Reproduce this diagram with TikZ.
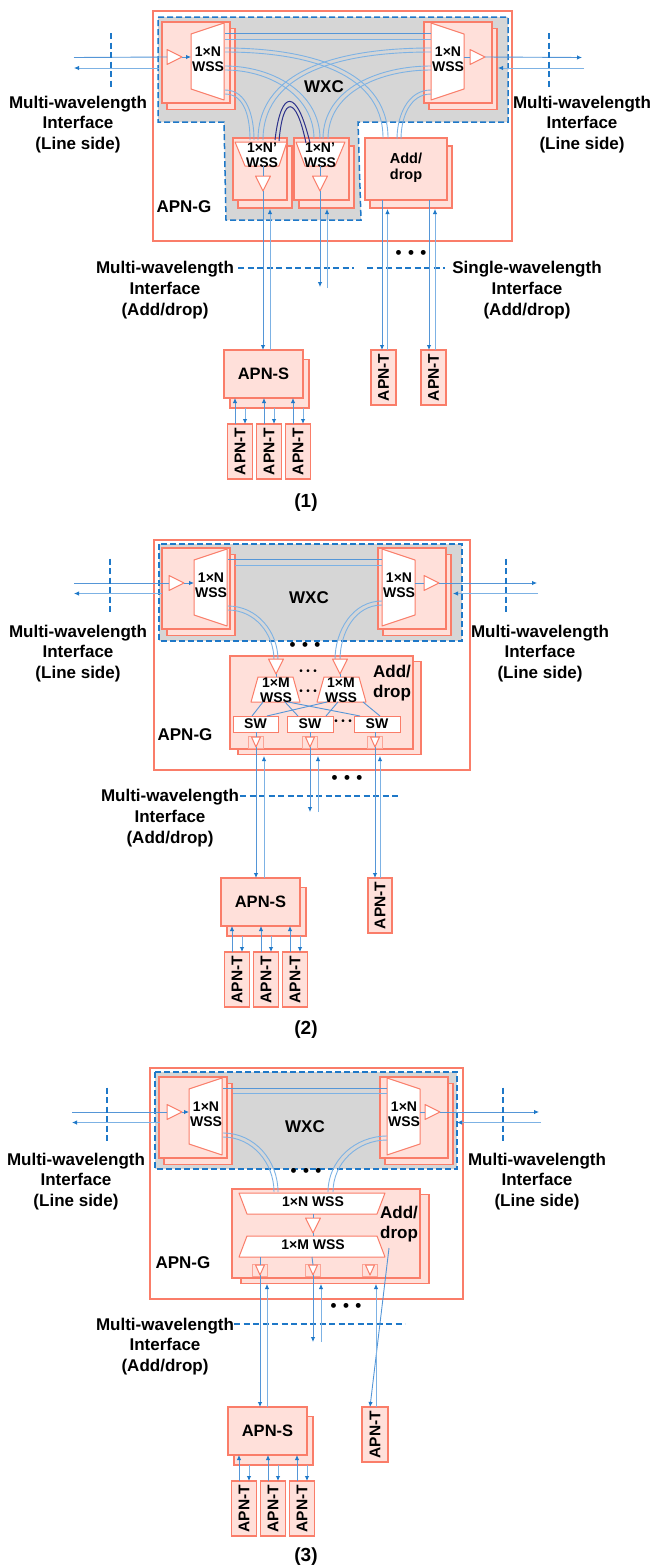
\documentclass[tikz,border=0pt]{standalone}
\usepackage{fontspec}
\usepackage{graphicx}
\setmainfont{Liberation Sans}
\usetikzlibrary{arrows.meta,positioning}
\definecolor{salmon}{RGB}{250,125,105}
\definecolor{rosa}{RGB}{255,224,218}
\definecolor{gris}{RGB}{214,214,214}
\definecolor{azul}{RGB}{30,120,200}
\definecolor{fibra}{RGB}{85,150,215}
\definecolor{fibrab}{RGB}{125,178,228}
\definecolor{arco}{RGB}{45,50,140}
\tikzset{
  x=1pt,y=-1pt,
  every node/.style={inner sep=0pt,outer sep=0pt,font=\bfseries},
  lab/.style={align=center,font=\fontsize{17}{20.6}\selectfont\bfseries},
  caplab/.style={font=\fontsize{19}{20}\selectfont\bfseries},
  inner/.style={align=center,font=\fontsize{14}{14.8}\selectfont\bfseries},
  addtext/.style={align=center,font=\fontsize{14.5}{16}\selectfont\bfseries},
  stackbox/.style={draw=salmon,fill=rosa,line width=1.1pt,align=center},
  apnbox/.style={draw=salmon,fill=rosa,line width=1.3pt},
  apnt/.style={apnbox,minimum width=25,minimum height=55,font=\fontsize{15.5}{16}\selectfont\bfseries},
  swbox/.style={draw=salmon,fill=white,line width=1pt,font=\fontsize{14}{14}\selectfont\bfseries},
  gbox/.style={draw=salmon,line width=1.2pt},
  wsspoly/.style={draw=salmon,fill=white,line width=1pt,line join=round},
  amppoly/.style={draw=salmon,fill=white,line width=1pt,line join=round},
  wxcline/.style={draw=azul,fill=gris,line width=1.5pt,dash pattern=on 6pt off 3pt},
  ifline/.style={draw=azul,line width=1.9pt,dash pattern=on 6pt off 3.5pt},
  fibre/.style={draw=fibra,line width=.9pt},
  fibrel/.style={draw=fibrab,line width=.9pt},
  tip/.style={-{Latex[length=5pt,width=4.5pt,color=azul]}},
  darc/.style={draw=arco,line width=1pt},
}
\newcommand{\boxnode}[7]{\node[#1,minimum width={(#5)-(#3)},minimum height={(#6)-(#4)}] (#2) at ({((#3)+(#5))/2},{((#4)+(#6))/2}) {#7};}
\newcommand{\stacknode}[7]{%
  \boxnode{stackbox}{#1-b}{#2+#6}{#3+#7}{#4+#6}{#5+#7}{}
  \boxnode{stackbox}{#1}{#2}{#3}{#4}{#5}{}}
\newcommand{\ampR}[3]{%
  \draw[amppoly] (#2,#3-7.5) -- (#2,#3+7.5) -- (#2+15,#3) -- cycle;
  \coordinate (#1-i) at (#2,#3);
  \coordinate (#1-o) at (#2+15,#3);}
\newcommand{\ampD}[3]{%
  \draw[amppoly] (#2-7.5,#3) -- (#2+7.5,#3) -- (#2,#3+15) -- cycle;
  \coordinate (#1-i) at (#2,#3);
  \coordinate (#1-o) at (#2,#3+15);}
\newcommand{\ampS}[3]{%
  \boxnode{draw=salmon!70,fill=rosa,line width=.7pt}{#1-f}{#2-7.5}{#3}{#2+7.5}{#3+12}{}
  \draw[amppoly] (#2-4.5,#3+1) -- (#2+4.5,#3+1) -- (#2,#3+11) -- cycle;
  \coordinate (#1-i) at (#2,#3+1);
  \coordinate (#1-o) at (#2,#3+11);}
\newcommand{\wssL}[5]{%
  \stacknode{#1}{#2}{#3}{#2+68}{#3+81}{5}{6.5}
  \draw[wsspoly] (#4,#3+12) -- (#4+33,#3+1) -- (#4+33,#3+78) -- (#4,#3+67) -- cycle;
  \node[inner] (#1-t) at (#4+17,#3+37.5) {1×N\\WSS};
  \ampR{#1-a}{#5}{#3+35}
  \coordinate (#1-p) at (#4,#3+35);
  \draw[fibre,tip] (#1-a-o) -- (#1-p);}
\newcommand{\wssR}[5]{%
  \stacknode{#1}{#2}{#3}{#2+68}{#3+81}{5}{6.5}
  \draw[wsspoly] (#4,#3+1) -- (#4+33,#3+12) -- (#4+33,#3+67) -- (#4,#3+78) -- cycle;
  \node[inner] (#1-t) at (#4+17,#3+37.5) {1×N\\WSS};
  \ampR{#1-a}{#5}{#3+35}
  \coordinate (#1-p) at (#4+33,#3+35);
  \draw[fibre] (#1-p) -- (#1-a-i);}
\newcommand{\lrports}[9]{%
  \coordinate (#1inL) at (#3,#2);
  \coordinate (#1ouLs) at (#4,#2+10.5);
  \coordinate (#1ouLe) at (#3,#2+10.5);
  \coordinate (#1daLt) at (#5,#2-24.5);
  \coordinate (#1daLb) at (#5,#2+31.5);
  \coordinate (#1inR) at (#6,#2);
  \coordinate (#1ouRs) at (#7,#2+10.5);
  \coordinate (#1ouRe) at (#8,#2+10.5);
  \coordinate (#1daRt) at (#9,#2-24.5);
  \coordinate (#1daRb) at (#9,#2+31.5);
  \draw[fibre] (#1inL) -- (wss#1L-a-i);
  \draw[fibrel,tip] (#1ouLs) -- (#1ouLe);
  \draw[fibre,tip] (wss#1R-a-o) -- (#1inR);
  \draw[fibrel,tip] (#1ouRs) -- (#1ouRe);
  \draw[ifline] (#1daLt) -- (#1daLb);
  \draw[ifline] (#1daRt) -- (#1daRb);}
\newcommand{\fibrepair}[4]{%
  \draw[fibrel] (#1) to[out=#3,in=90] (#2);
  \draw[fibrel] ([yshift=-4pt]#1) to[out=#3,in=90] ([xshift=#4]#2);}
\newcommand{\apnset}[3]{%
  \boxnode{apnbox}{apnS#1-b}{#2+6}{#3+9.5}{#2+85}{#3+58}{}
  \boxnode{apnbox,font=\fontsize{16.5}{17}\selectfont\bfseries}{apnS#1}{#2}{#3}{#2+79}{#3+48}{APN-S}
  \node[apnt,anchor=north west] (apnT#1a) at (#2+3.5,#3+74) {\rotatebox{90}{APN-T}};
  \node[apnt,right=4pt of apnT#1a] (apnT#1b) {\rotatebox{90}{APN-T}};
  \node[apnt,right=4pt of apnT#1b] (apnT#1c) {\rotatebox{90}{APN-T}};
  \foreach \t in {a,b,c} {
    \draw[fibre,tip] ([xshift=-5pt]apnT#1\t.north) -- ([xshift=-5pt]apnT#1\t.north |- apnS#1.south);
    \draw[fibrel,tip] ([xshift=5pt]apnT#1\t.north |- apnS#1-b.south) -- ([xshift=5pt]apnT#1\t.north);
  }}
\newcommand{\bigdots}{•\hspace{6.5pt}•\hspace{6.5pt}•}
\newcommand{\tinydots}{\fontsize{10}{10}\selectfont•\hspace{3.5pt}•\hspace{3.5pt}•}
\begin{document}
\begin{tikzpicture}
\useasboundingbox (0,0) rectangle (654,1567);
% panel 1
\boxnode{gbox}{gateA}{153}{11}{512}{241}{}
\draw[wxcline] (158,17) -- (508,17) -- (508,122) -- (358,122) -- (361,220) -- (226,220) -- (224,122) -- (158,122) -- cycle;
\wssL{wssaL}{162}{22}{191}{167}
\wssR{wssaR}{424}{22}{431}{470}
\lrports{a}{57.5}{74}{159}{111}{582}{584}{498}{549}
\stacknode{dropa}{233}{138}{287}{200}{5}{8}
\stacknode{dropb}{294}{138}{349}{200}{5}{8}
\stacknode{dropc}{365}{138}{447}{200}{5}{8}
\foreach \n/\x/\y in {tpa/225/33,tpb/431/33,tqa/225/39,tqb/431/39,la/225/48,lb/225/66,lc/225/90,ra/431/48,rb/431/66,rc/431/90,
  lae/388/138,lbe/320/139,lce/254/140,rae/258/140,rbe/323/139,rce/397/139,
  dka/275/140,dkb/310/143,dkc/279/141,dkd/306/143}
  \coordinate (\n) at (\x,\y);
\draw[fibre] (tpa) -- (tpb);
\draw[fibrel] (tqa) -- (tqb);
\fibrepair{la}{lae}{0}{-5pt}
\fibrepair{lb}{lbe}{0}{-6pt}
\fibrepair{lc}{lce}{0}{-4pt}
\fibrepair{ra}{rae}{180}{5pt}
\fibrepair{rb}{rbe}{180}{5pt}
\fibrepair{rc}{rce}{180}{4pt}
\draw[wsspoly] (235,142) -- (287,142) -- (279,166) -- (245,166) -- cycle;
\draw[wsspoly] (296,142) -- (345,142) -- (335,166) -- (305,166) -- cycle;
\draw[darc] (dka) .. controls (281,88) and (297,88) .. (dkb);
\draw[darc] (dkc) .. controls (283,95) and (296,95) .. (dkd);
\node[inner] (wssA) at (262,155) {1×N’\\WSS};
\node[inner] (wssB) at (320,155) {1×N’\\WSS};
\ampD{ampa}{263}{176}
\ampD{ampb}{320}{176}
\coordinate (wssAb) at (263,166);
\coordinate (wssBb) at (320,166);
\draw[fibre] (wssAb) -- (ampa-i);
\draw[fibre] (wssBb) -- (ampb-i);
\node[addtext] (addK) at (406,168) {Add/\\drop};
\node[lab] (wxcA) at (324,87) {WXC};
\node[lab] (gLabA) at (184,207) {APN-G};
\node[lab] (ifaL) at (78,124.5) {Multi-wavelength\\Interface\\(Line side)};
\node[lab] (ifaR) at (582,124.5) {Multi-wavelength\\Interface\\(Line side)};
\node[lab] (ifaM) at (165,290) {Multi-wavelength\\Interface\\(Add/drop)};
\node[lab] (ifaS) at (527,290) {Single-wavelength\\Interface\\(Add/drop)};
\node[lab] (dotsA) at (411,254) {\bigdots};
\foreach \n/\x/\y in {daa/238/268,dab/354/268,dac/367/268,dad/445/268,dnb/320/287,upa/270/209,upb/327/209,upbe/327/288,
  dca/382/200,dcb/429/200,uca/387.5/209,ucb/435/209}
  \coordinate (\n) at (\x,\y);
\draw[ifline] (daa) -- (dab);
\draw[ifline] (dac) -- (dad);
\apnset{a}{224}{350}
\boxnode{apnt}{apnTx}{371}{350}{396}{405}{\rotatebox{90}{APN-T}}
\boxnode{apnt}{apnTy}{421}{350}{446}{405}{\rotatebox{90}{APN-T}}
\draw[fibre,tip] (ampa-o) -- (ampa-o |- apnSa.north);
\draw[fibrel,tip] (upa |- apnSa.north) -- (upa);
\draw[fibre,tip] (ampb-o) -- (dnb);
\draw[fibrel,tip] (upbe) -- (upb);
\draw[fibre,tip] (dca) -- (dca |- apnTx.north);
\draw[fibrel,tip] (uca |- apnTx.north) -- (uca);
\draw[fibre,tip] (dcb) -- (dcb |- apnTy.north);
\draw[fibrel,tip] (ucb |- apnTy.north) -- (ucb);
\node[caplab] (capA) at (306,503) {(1)};
% panel 2
\boxnode{gbox}{gateB}{154}{540}{470}{770}{}
\draw[wxcline] (159,544) rectangle (462,641);
\wssL{wssbL}{162}{548}{194}{169}
\wssR{wssbR}{378}{548}{382}{424}
\lrports{b}{583}{74}{162}{110}{537}{538}{453}{506}
\foreach \n/\x/\y in {tpc/228/559,tpd/382/559,tqc/235/565,tqd/382/565,lf/228/606,rf/382/601,lfe/278/660,rfe/335/660}
  \coordinate (\n) at (\x,\y);
\draw[fibre] (tpc) -- (tpd);
\draw[fibrel] (tqc) -- (tqd);
\stacknode{addb}{230}{656}{413}{749}{8}{5.5}
\fibrepair{lf}{lfe}{0}{-4pt}
\fibrepair{rf}{rfe}{180}{5pt}
\ampD{ampc}{276}{659}
\ampD{ampd}{340}{659}
\draw[wsspoly] (258,677) -- (293,677) -- (300,702) -- (251,702) -- cycle;
\draw[wsspoly] (324,677) -- (359,677) -- (366,702) -- (317,702) -- cycle;
\node[inner] (wssC) at (276,690) {1×M\\WSS};
\node[inner] (wssD) at (341,690) {1×M\\WSS};
\coordinate (wssCt) at (276,677);
\coordinate (wssDt) at (340,677);
\draw[fibre] (ampc-o) -- (wssCt);
\draw[fibre] (ampd-o) -- (wssDt);
\boxnode{swbox}{swa}{233}{716}{278}{732}{SW}
\boxnode{swbox}{swb}{287}{716}{333}{732}{SW}
\boxnode{swbox}{swc}{354}{716}{400}{732}{SW}
\foreach \n/\x/\y in {cra/263/702,crb/285/702,crc/288/702,crd/327/702,cre/338/702,crf/363/702,
  cta/252/716,ctb/298/716,ctc/360/716,ctd/267/716,cte/326/716,ctf/380/716}
  \coordinate (\n) at (\x,\y);
\foreach \a/\b in {cra/cta,crb/ctb,crc/ctc,crd/ctd,cre/cte,crf/ctf}
  \draw[fibre] (\a) -- (\b);
\ampS{ampe}{256}{736}
\ampS{ampf}{310}{736}
\ampS{ampg}{375}{736}
\draw[fibre] (swa.south -| ampe-i) -- (ampe-i);
\draw[fibre] (swb.south -| ampf-i) -- (ampf-i);
\draw[fibre] (swc.south -| ampg-i) -- (ampg-i);
\node[lab] (addL) at (392,683) {Add/\\drop};
\node[font=\fontsize{12}{12}\selectfont] (dotsB) at (308,672) {\tinydots};
\node[font=\fontsize{12}{12}\selectfont] (dotsC) at (308,692) {\tinydots};
\node[font=\fontsize{12}{12}\selectfont] (dotsD) at (343,722) {\tinydots};
\node[lab] (wxcB) at (309,598) {WXC};
\node[lab] (dotsE) at (305,646) {\bigdots};
\node[lab] (dotsF) at (347,779) {\bigdots};
\node[lab] (gLabB) at (185,735) {APN-G};
\node[lab] (ifbL) at (78,653.5) {Multi-wavelength\\Interface\\(Line side)};
\node[lab] (ifbR) at (540,653.5) {Multi-wavelength\\Interface\\(Line side)};
\node[lab] (ifbM) at (170,818) {Multi-wavelength\\Interface\\(Add/drop)};
\foreach \n/\x/\y in {dae/240/796,daf/398/796,dnf/310/812,uph/264/756,upi/318/756,upj/380/756,upie/318/812}
  \coordinate (\n) at (\x,\y);
\draw[ifline] (dae) -- (daf);
\apnset{b}{221}{878}
\boxnode{apnt}{apnTz}{368}{878}{392}{933}{\rotatebox{90}{APN-T}}
\draw[fibre,tip] (ampe-o) -- (ampe-o |- apnSb.north);
\draw[fibrel,tip] (uph |- apnSb.north) -- (uph);
\draw[fibre,tip] (ampf-o) -- (dnf);
\draw[fibrel,tip] (upie) -- (upi);
\draw[fibre,tip] (ampg-o) -- (ampg-o |- apnTz.north);
\draw[fibrel,tip] (upj |- apnTz.north) -- (upj);
\node[caplab] (capB) at (306,1030) {(2)};
% panel 3
\boxnode{gbox}{gateC}{150}{1068}{463}{1299}{}
\draw[wxcline] (155,1072) rectangle (457,1169);
\wssL{wsscL}{159}{1077}{189}{167}
\wssR{wsscR}{380}{1077}{387}{425}
\lrports{c}{1112}{72}{160}{107}{539}{541}{457}{503}
\foreach \n/\x/\y in {tpe/223/1088,tpf/387/1088,tqe/233/1093,tqf/387/1093,lg/223/1133,rg/387/1136,lge/278/1192,rge/328/1192}
  \coordinate (\n) at (\x,\y);
\draw[fibre] (tpe) -- (tpf);
\draw[fibrel] (tqe) -- (tqf);
\stacknode{addc}{232}{1189}{420}{1278}{9}{5.5}
\fibrepair{lg}{lge}{0}{-4pt}
\fibrepair{rg}{rge}{180}{5pt}
\draw[wsspoly] (239,1193) -- (385,1193) -- (377,1214) -- (247,1214) -- cycle;
\draw[wsspoly] (247,1236) -- (377,1236) -- (385,1257) -- (239,1257) -- cycle;
\node[inner] (wssE) at (313,1202) {1×N WSS};
\node[inner] (wssF) at (313,1245) {1×M WSS};
\ampD{amph}{313}{1218}
\foreach \n/\x/\y in {wssEb/313/1214,wssFt/313/1236,wssFa/260/1257,wssFb/312/1257,sla/389/1248,slb/370/1407}
  \coordinate (\n) at (\x,\y);
\draw[fibre] (wssEb) -- (amph-i);
\draw[fibre] (amph-o) -- (wssFt);
\ampS{ampi}{260}{1264}
\ampS{ampj}{313}{1264}
\ampS{ampk}{370}{1264}
\draw[fibre] (wssFa) -- (ampi-i);
\draw[fibre] (wssFb) -- (ampj-i);
\node[lab] (addM) at (399,1224) {Add/\\drop};
\node[lab] (wxcC) at (305,1127) {WXC};
\node[lab] (dotsG) at (306,1172) {\bigdots};
\node[lab] (dotsH) at (346,1307) {\bigdots};
\node[lab] (gLabC) at (183,1263) {APN-G};
\node[lab] (ifcL) at (76,1181.5) {Multi-wavelength\\Interface\\(Line side)};
\node[lab] (ifcR) at (537,1181.5) {Multi-wavelength\\Interface\\(Line side)};
\node[lab] (ifcM) at (165,1346.5) {Multi-wavelength\\Interface\\(Add/drop)};
\foreach \n/\x/\y in {dag/234/1324,dah/405/1324,dnj/313/1342,upk/267/1284,upl/321/1284,upm/376/1284,uple/321/1342}
  \coordinate (\n) at (\x,\y);
\draw[ifline] (dag) -- (dah);
\apnset{c}{228}{1407}
\boxnode{apnt}{apnTw}{362}{1407}{388}{1462}{\rotatebox{90}{APN-T}}
\draw[fibre,tip] (ampi-o) -- (ampi-o |- apnSc.north);
\draw[fibrel,tip] (upk |- apnSc.north) -- (upk);
\draw[fibre,tip] (ampj-o) -- (dnj);
\draw[fibrel,tip] (uple) -- (upl);
\draw[fibre,tip] (sla) -- (slb);
\draw[fibrel,tip] (upm |- apnTw.north) -- (upm);
\node[caplab] (capC) at (306,1557) {(3)};
\end{tikzpicture}
\end{document}
